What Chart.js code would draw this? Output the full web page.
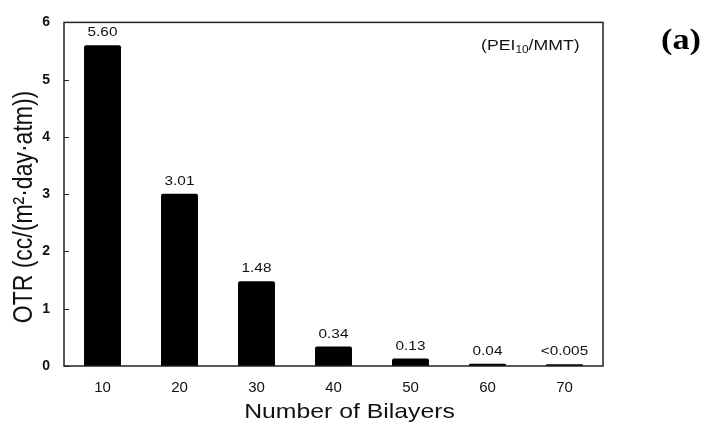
<!DOCTYPE html>
<html>
<head>
<meta charset="utf-8">
<script src="https://cdn.jsdelivr.net/npm/chart.js@4.4.1/dist/chart.umd.min.js"></script>
<style>
  html, body { margin: 0; padding: 0; background: #fff; }
  #wrap { position: relative; width: 706px; height: 424px; }
</style>
</head>
<body>
<div id="wrap"><canvas id="otr"></canvas></div>
<script>
var bilayers = ['10', '20', '30', '40', '50', '60', '70'];
var otrValues = [5.60, 3.01, 1.48, 0.34, 0.13, 0.04, 0.03];
var valueLabels = ['5.60', '3.01', '1.48', '0.34', '0.13', '0.04', '<0.005'];
var yTicks = [0, 1, 2, 3, 4, 5, 6];
var xTitle = 'Number of Bilayers';
var yTitle = 'OTR (cc/(m\u00B2\u00B7day\u00B7atm))';

var SANS = '"Liberation Sans", Arial, sans-serif';
var STRETCH = 1.18; // the source figure is a bit wider than tall

// text drawn wider than its height, like the scanned figure
function wideText(ctx, text, x, y, font, align) {
  ctx.save();
  ctx.font = font;
  ctx.translate(x, y);
  ctx.scale(STRETCH, 1);
  ctx.textAlign = align || 'left';
  ctx.fillText(text, 0, 0);
  var w = ctx.measureText(text).width * STRETCH;
  ctx.restore();
  return w;
}

// frame, inward ticks, value labels, axis titles and the side texts
var decorations = {
  id: 'decorations',
  afterDatasetsDraw: function(chart) {
    var ctx = chart.ctx;
    var area = chart.chartArea;
    var y = chart.scales.y;
    ctx.save();
    ctx.strokeStyle = '#222';
    ctx.lineWidth = 1.5;
    ctx.strokeRect(area.left, area.top, area.right - area.left, area.bottom - area.top);

    ctx.lineWidth = 1;
    yTicks.forEach(function(v) {
      var py = Math.round(y.getPixelForValue(v)) + 0.5;
      ctx.beginPath();
      ctx.moveTo(area.left, py);
      ctx.lineTo(area.left + 5, py);
      ctx.stroke();
    });

    ctx.fillStyle = '#111';
    ctx.textBaseline = 'bottom';
    var meta = chart.getDatasetMeta(0);
    meta.data.forEach(function(bar, i) {
      wideText(ctx, valueLabels[i], bar.x, bar.y - 6, '13px ' + SANS, 'center');
    });

    ctx.textBaseline = 'alphabetic';
    // x title
    wideText(ctx, xTitle, (area.left + area.right) / 2 + 16, 418, '21px ' + SANS, 'center');

    // y title, rotated; thickness stretched horizontally
    ctx.save();
    ctx.translate(32, 207);
    ctx.scale(STRETCH, 1);
    ctx.rotate(-Math.PI / 2);
    ctx.font = '23px ' + SANS;
    ctx.textAlign = 'center';
    ctx.fillText(yTitle, 0, 0);
    ctx.restore();

    // (PEI10/MMT) with subscript
    var x0 = 481, base = 50;
    x0 += wideText(ctx, '(PEI', x0, base, '15px ' + SANS);
    x0 += wideText(ctx, '10', x0, base + 3, '10px ' + SANS);
    wideText(ctx, '/MMT)', x0, base, '15px ' + SANS);

    ctx.fillStyle = '#000';
    wideText(ctx, '(a)', 661, 49, 'bold 29px "Liberation Serif", "Times New Roman", serif');
    ctx.restore();
  }
};

new Chart(document.getElementById('otr'), {
  type: 'bar',
  data: {
    labels: bilayers,
    datasets: [{
      data: otrValues,
      backgroundColor: '#000',
      borderRadius: 2,
      borderSkipped: 'bottom',
      barPercentage: 0.48,
      categoryPercentage: 1.0
    }]
  },
  options: {
    responsive: true,
    maintainAspectRatio: false,
    animation: false,
    layout: { padding: { left: 0, right: 103, top: 22, bottom: 0 } },
    plugins: { legend: { display: false }, tooltip: { enabled: false } },
    scales: {
      x: {
        grid: { display: false, drawTicks: false },
        border: { display: false },
        ticks: {
          color: '#111',
          padding: 13,
          font: { family: SANS, size: 15 }
        },
        afterFit: function(scale) { scale.height = 58; }
      },
      y: {
        min: 0,
        max: 6,
        grid: { display: false, drawTicks: false },
        border: { display: false },
        afterBuildTicks: function(scale) {
          scale.ticks = yTicks.map(function(v) { return { value: v }; });
        },
        ticks: {
          color: '#111',
          padding: 14,
          font: { family: SANS, size: 14, weight: 'bold' }
        },
        afterFit: function(scale) { scale.width = 64; }
      }
    }
  },
  plugins: [decorations]
});
</script>
</body>
</html>
